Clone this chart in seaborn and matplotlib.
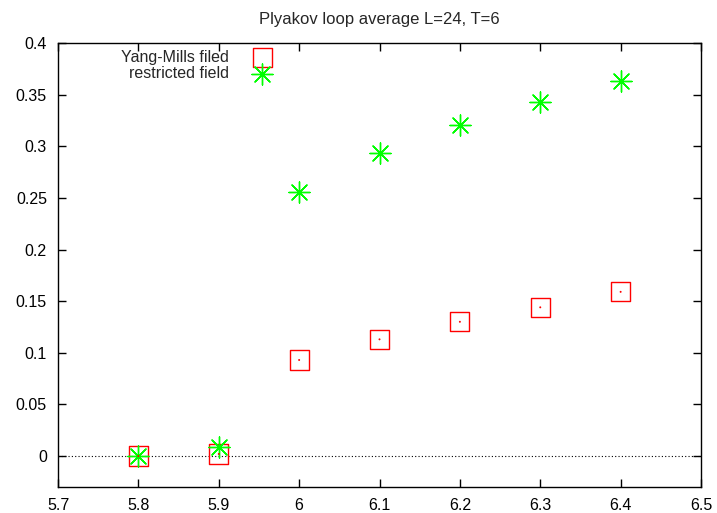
import matplotlib
matplotlib.use("Agg")
import matplotlib.pyplot as plt
import seaborn as sns
import pandas as pd

beta = [5.8, 5.9, 6.0, 6.1, 6.2, 6.3, 6.4]
yang_mills = [0.0, 0.002, 0.093, 0.113, 0.130, 0.144, 0.159]
restricted = [0.0, 0.009, 0.256, 0.293, 0.321, 0.343, 0.363]
series_names = ["Yang-Mills filed", "restricted field"]
x_ticks = [5.7, 5.8, 5.9, 6.0, 6.1, 6.2, 6.3, 6.4, 6.5]
y_ticks = [0, 0.05, 0.1, 0.15, 0.2, 0.25, 0.3, 0.35, 0.4]

sns.set_theme(style="white")
plt.rcParams['font.family'] = ['Liberation Sans', 'DejaVu Sans']

FS = 11.5
fig = plt.figure(figsize=(7.17, 5.13), dpi=100)
ax = fig.add_axes([0.0809, 0.0507, 0.8968, 0.8655])

df_ym = pd.DataFrame({"beta": beta, "val": yang_mills})
df_rf = pd.DataFrame({"beta": beta, "val": restricted})

ax.axhline(0, color="black", linestyle=(0, (1, 2)), linewidth=0.8, zorder=1)

sns.scatterplot(data=df_ym, x="beta", y="val", ax=ax, marker="s", s=190,
                facecolors="none", edgecolor="#ff0000", linewidth=1.0,
                label=series_names[0], zorder=3)
sns.scatterplot(data=df_rf, x="beta", y="val", ax=ax, marker=(8, 2, 0), s=230,
                color="#00ff00", edgecolor="#00ff00", linewidth=1.0,
                label=series_names[1], zorder=4)
ax.scatter(beta, yang_mills, marker="o", s=2, color="#ff0000",
           edgecolors="none", zorder=5)

ax.set_xlim(5.7, 6.5)
ax.set_ylim(-0.03, 0.4)
ax.set_xticks(x_ticks)
ax.set_xticklabels([f"{v:g}" for v in x_ticks])
ax.set_yticks(y_ticks)
ax.set_yticklabels([f"{v:g}" for v in y_ticks])
ax.set_xlabel("")
ax.set_ylabel("")
ax.set_title("Plyakov loop average L=24, T=6", fontsize=12, pad=14)

for sp in ax.spines.values():
    sp.set_color("black")
    sp.set_linewidth(1.0)
ax.tick_params(direction="in", length=6, width=1, top=True, right=True,
               bottom=True, left=True, labelsize=FS, colors="black", pad=8)

leg = ax.legend(loc="upper right", bbox_to_anchor=(0.336, 0.984), frameon=False,
                markerfirst=False, fontsize=FS, handletextpad=1.35,
                handlelength=1.5, labelspacing=0.05, borderaxespad=0,
                borderpad=0)
for t in leg.get_texts():
    t.set_ha("right")

fig.savefig("out.png", dpi=100)
